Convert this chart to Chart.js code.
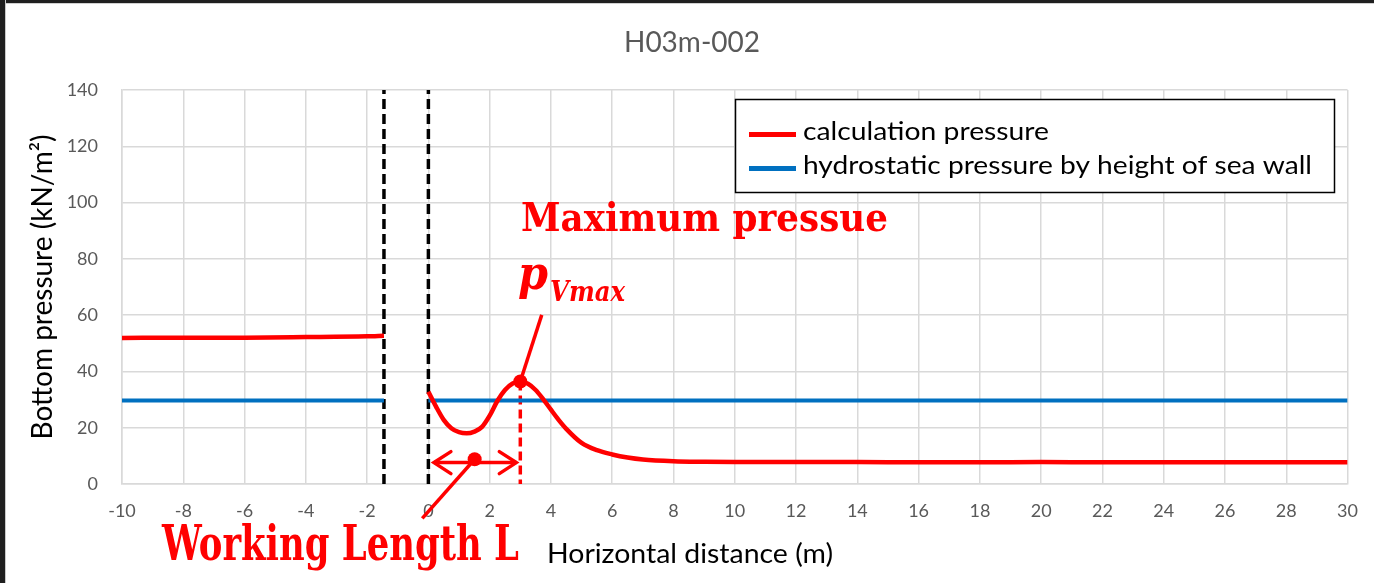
<!DOCTYPE html>
<html>
<head>
<meta charset="utf-8">
<script src="https://cdn.jsdelivr.net/npm/chart.js@4.4.1/dist/chart.umd.min.js"></script>
<style>
    html, body { margin: 0; padding: 0; background: #fff; }
    #wrap { position: relative; width: 1374px; height: 583px; overflow: hidden; }
    #frameLeft { position: absolute; left: 0; top: 0; width: 5px; height: 583px; background: #1f1f1f; border-right: 1px solid #c9c9c9; }
    #frameTop { position: absolute; left: 0; top: 0; width: 1374px; height: 3px; background: #1f1f1f; border-bottom: 1px solid #d0d0d0; }
</style>
</head>
<body>
<div id="wrap">
    <canvas id="chart" width="1374" height="583"></canvas>
    <div id="frameTop"></div>
    <div id="frameLeft"></div>
</div>
<script>
// calculation pressure (red), null = break at the wall
const calcX = [-10, -8, -6, -4, -2, -1.45, -0.7, 0, 0.25, 0.5, 0.75, 1.0, 1.25, 1.5, 1.75, 2.0, 2.25, 2.5, 2.75, 3.0,
    3.25, 3.5, 3.75, 4.0, 4.25, 4.5, 5.0, 5.5, 6.0, 6.5, 7.0, 8.0, 9.0, 10, 12, 14, 16, 18, 20, 22, 24, 26, 28, 30];
const calcY = [51.9, 52.0, 52.0, 52.2, 52.5, 52.7, null, 32.8, 27.5, 22.8, 19.8, 18.4, 18.0, 18.6, 20.3, 24.3, 29.5, 33.4, 35.7, 36.4,
    35.6, 33.4, 30.1, 26.4, 22.8, 19.6, 14.6, 12.0, 10.5, 9.4, 8.7, 8.1, 7.9, 7.8, 7.8, 7.8, 7.7, 7.7, 7.8, 7.7, 7.7, 7.7, 7.7, 7.7];

// hydrostatic pressure by height of sea wall (blue)
const hydroX = [-10, -1.45, -0.7, 0, 30];
const hydroY = [29.7, 29.7, null, 29.7, 29.7];

// sea wall faces (black dashed) and their vertical extent
const wallX = [-1.45, 0];
const wallY = [0, 140];

// annotation anchors, in data units
const peakPoint = [3.0, 36.4];
const peakPointerEnd = [3.7, 60.1];
const workSpanX = [0.18, 2.87];
const workSpanY = 7.6;
const workDot = [1.51, 8.8];
const workPointerEnd = [-0.2, -12.2];

const xTicks = { min: -10, max: 30, step: 2 };
const yTicks = { min: 0, max: 140, step: 20 };

const RED = "#ff0000";
const BLUE = "#0070c0";
const GRID = "#d9d9d9";
const TICK = "#595959";

const pts = (xs, ys) => xs.map((x, i) => ({ x, y: ys[i] }));

Chart.defaults.font.family = "Lato, 'Open Sans', sans-serif";

function fitText(ctx, text, font, color, x, y, width) {
    ctx.save();
    ctx.font = font;
    ctx.fillStyle = color;
    ctx.textAlign = "left";
    ctx.textBaseline = "alphabetic";
    const w = ctx.measureText(text).width;
    ctx.translate(x, y);
    ctx.scale(width / w, 1);
    ctx.fillText(text, 0, 0);
    ctx.restore();
}

const annotations = {
    id: "annotations",
    afterDatasetsDraw(chart) {
        const { ctx, scales: { x, y } } = chart;
        // arrow heads on the working length span
        const yy = y.getPixelForValue(workSpanY);
        const tips = [[x.getPixelForValue(workSpanX[0]), 1], [x.getPixelForValue(workSpanX[1]), -1]];
        ctx.save();
        ctx.strokeStyle = RED;
        ctx.lineWidth = 3.5;
        ctx.lineCap = "round";
        tips.forEach(([px, dir]) => {
            ctx.beginPath();
            ctx.moveTo(px + dir * 17, yy - 11);
            ctx.lineTo(px, yy);
            ctx.lineTo(px + dir * 17, yy + 11);
            ctx.stroke();
        });
        ctx.restore();
    },
    afterDraw(chart) {
        const { ctx } = chart;
        const serif = "'DejaVu Serif', 'Liberation Serif', serif";

        fitText(ctx, "H03m-002", "28px Lato", TICK, 624, 52, 136);
        fitText(ctx, "Horizontal distance (m)", "27px Lato", "#000", 547, 563, 286);

        // legend box
        ctx.save();
        ctx.fillStyle = "#fff";
        ctx.fillRect(736, 100, 598, 92);
        ctx.strokeStyle = "#000";
        ctx.lineWidth = 1.5;
        ctx.strokeRect(735.5, 99.5, 599, 93);
        ctx.restore();
        const rows = [
            { ds: chart.data.datasets[0], y: 134.5, width: 246 },
            { ds: chart.data.datasets[1], y: 168.5, width: 509 },
        ];
        rows.forEach((r) => {
            ctx.save();
            ctx.strokeStyle = r.ds.borderColor;
            ctx.lineWidth = 5;
            ctx.beginPath();
            ctx.moveTo(749, r.y);
            ctx.lineTo(796, r.y);
            ctx.stroke();
            ctx.restore();
            fitText(ctx, r.ds.label, "25px Lato", "#000", 803, r.y + 5.5, r.width);
        });

        // red annotations
        fitText(ctx, "Maximum pressue", "bold 39px " + serif, RED, 521, 231, 367);
        fitText(ctx, "p", "italic bold 46px " + serif, RED, 518, 289, 30);
        fitText(ctx, "Vmax", "italic bold 28px " + serif, RED, 550, 301, 75);
        fitText(ctx, "Working Length L", "bold 48px " + serif, RED, 162, 560, 357);
    },
};

const dashed = (data, color, width, dash) => ({
    data,
    borderColor: color,
    borderWidth: width,
    borderDash: dash,
    pointRadius: 0,
    fill: false,
});

new Chart(document.getElementById("chart"), {
    type: "line",
    data: {
        datasets: [
            {
                label: "calculation pressure",
                data: pts(calcX, calcY),
                borderColor: RED,
                borderWidth: 4.5,
                pointRadius: 0,
                cubicInterpolationMode: "monotone",
                spanGaps: false,
            },
            {
                label: "hydrostatic pressure by height of sea wall",
                data: pts(hydroX, hydroY),
                borderColor: BLUE,
                borderWidth: 4,
                pointRadius: 0,
                spanGaps: false,
            },
            dashed(wallY.map((v) => ({ x: wallX[0], y: v })), "#000", 3.5, [10, 5]),
            dashed(wallY.map((v) => ({ x: wallX[1], y: v })), "#000", 3.5, [10, 5]),
            dashed([{ x: peakPoint[0], y: peakPoint[1] }, { x: peakPoint[0], y: 0 }], RED, 3.5, [9, 5]),
            dashed([{ x: workSpanX[0], y: workSpanY }, { x: workSpanX[1], y: workSpanY }], RED, 3.5, []),
            { ...dashed([{ x: workDot[0], y: workDot[1] }, { x: workPointerEnd[0], y: workPointerEnd[1] }], RED, 3.5, []), clip: false },
            dashed([{ x: peakPoint[0], y: peakPoint[1] }, { x: peakPointerEnd[0], y: peakPointerEnd[1] }], RED, 3.5, []),
            {
                data: [{ x: workDot[0], y: workDot[1] }, { x: peakPoint[0], y: peakPoint[1] }],
                showLine: false,
                pointRadius: 7,
                pointBackgroundColor: RED,
                pointBorderWidth: 0,
                borderColor: RED,
            },
        ],
    },
    options: {
        responsive: false,
        animation: false,
        devicePixelRatio: 1,
        layout: { padding: { top: 90, right: 22, bottom: 0, left: 0 } },
        plugins: {
            legend: { display: false },
            title: { display: false },
            tooltip: { enabled: false },
        },
        scales: {
            x: {
                type: "linear",
                min: xTicks.min,
                max: xTicks.max,
                afterFit: (s) => { s.height = 99; },
                grid: { color: GRID, lineWidth: 1.5, drawTicks: false },
                border: { color: GRID, width: 1.5 },
                ticks: { stepSize: xTicks.step, color: TICK, font: { size: 18 }, padding: 16 },
            },
            y: {
                min: yTicks.min,
                max: yTicks.max,
                afterFit: (s) => { s.width = 122; },
                grid: { color: GRID, lineWidth: 1.5, drawTicks: false },
                border: { color: GRID, width: 1.5 },
                ticks: { stepSize: yTicks.step, color: TICK, font: { size: 18 }, padding: 24 },
                title: {
                    display: true,
                    text: "Bottom pressure (kN/m²)",
                    color: "#000",
                    font: { size: 28 },
                    padding: { top: 26 },
                },
            },
        },
    },
    plugins: [annotations],
});
</script>
</body>
</html>
